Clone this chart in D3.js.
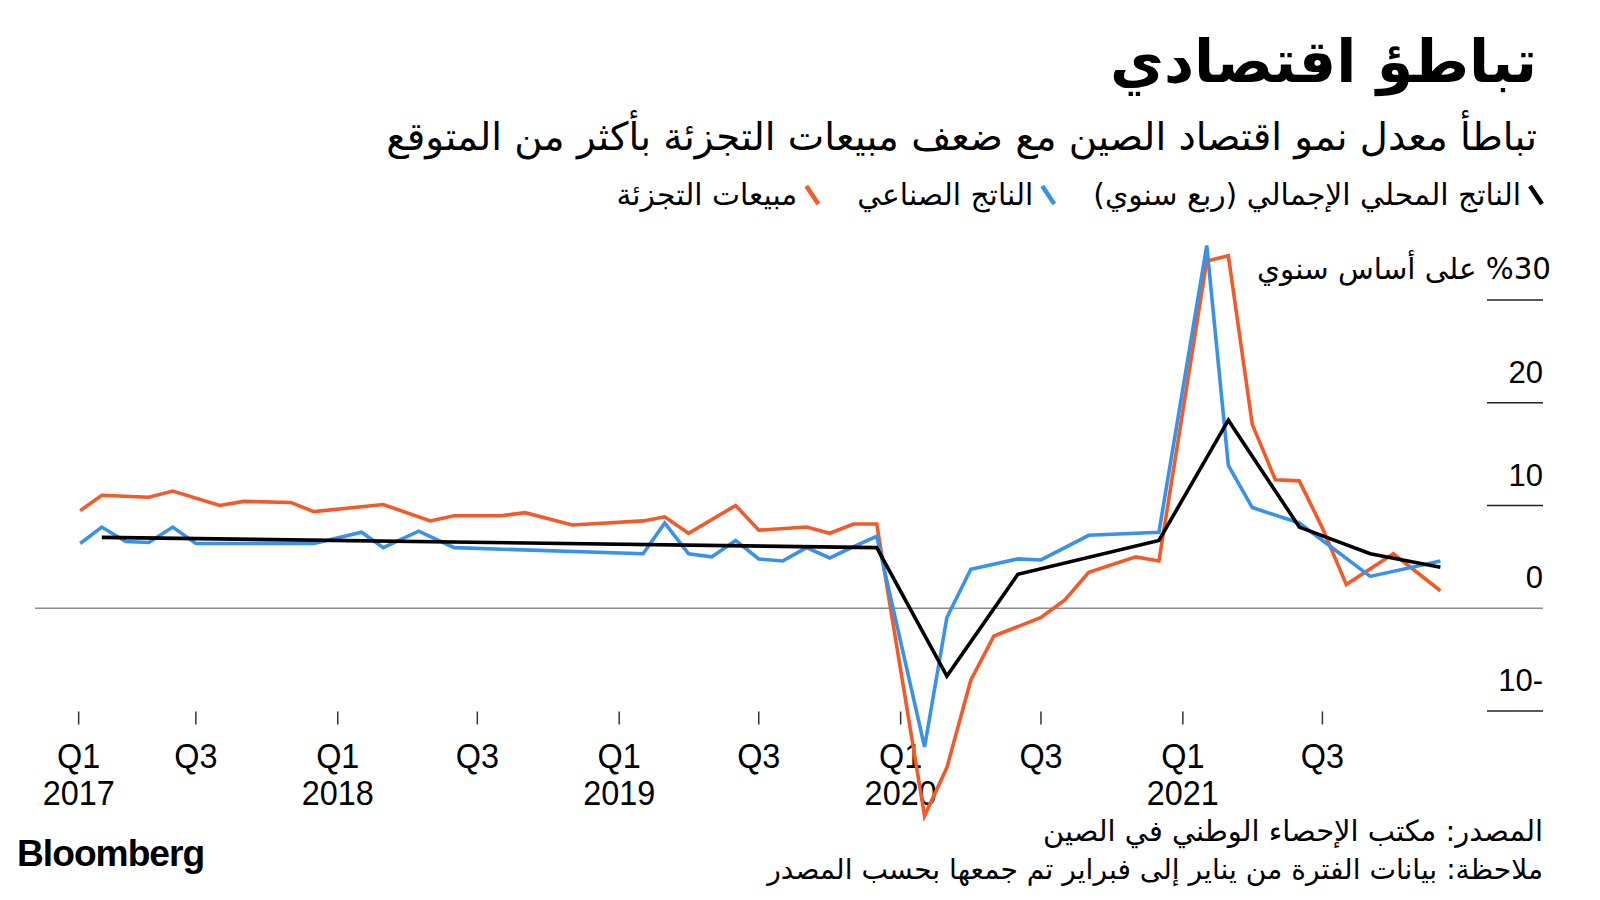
<!DOCTYPE html>
<html><head><meta charset="utf-8">
<script src="https://cdn.jsdelivr.net/npm/d3@7"></script>
<style>body{margin:0;background:#fff;} svg{display:block;}</style>
</head><body>
<svg id="chart" width="1600" height="900"></svg>
<script>
// ---------- data ----------
const titleText = "تباطؤ اقتصادي";
const subtitleText = "تباطأ معدل نمو اقتصاد الصين مع ضعف مبيعات التجزئة بأكثر من المتوقع";
const seriesNames = ["الناتج المحلي الإجمالي (ربع سنوي)", "الناتج الصناعي", "مبيعات التجزئة"];
const seriesColors = ["#000000", "#3a92e8", "#f15a29"];
const sourceText = "المصدر: مكتب الإحصاء الوطني في الصين";
const noteText = "ملاحظة: بيانات الفترة من يناير إلى فبراير تم جمعها بحسب المصدر";

// GDP (quarterly, % y/y)
const gdpDates = ["2017-03","2019-12","2020-03","2020-06","2020-12","2021-03","2021-06","2021-09","2021-12"];
const gdpValues = [6.9, 5.9, -6.6, 3.3, 6.6, 18.3, 7.9, 5.3, 4.0];

// Industrial output (% y/y)
const indDates = ["2017-02","2017-03","2017-04","2017-05","2017-06","2017-07","2017-12",
  "2018-02","2018-03","2018-04-16","2018-06","2019-02","2019-03","2019-04","2019-05","2019-06",
  "2019-07","2019-08","2019-09","2019-10","2019-11","2019-12","2020-02","2020-03","2020-04",
  "2020-06","2020-07","2020-09","2020-12","2021-02","2021-03","2021-04","2021-06","2021-09","2021-12"];
const indValues = [6.3, 7.9, 6.5, 6.4, 7.9, 6.3, 6.3,
  7.4, 5.9, 7.5, 5.9, 5.3, 8.3, 5.3, 5.0, 6.6,
  4.8, 4.6, 5.9, 4.9, 6.0, 7.0, -13.5, -0.9, 3.8,
  4.8, 4.7, 7.1, 7.4, 35.3, 13.9, 9.8, 8.3, 3.1, 4.6];

// Retail sales (% y/y)
const retDates = ["2017-02","2017-03","2017-05","2017-06","2017-08","2017-09","2017-11","2017-12",
  "2018-03","2018-05","2018-06","2018-08","2018-09","2018-11","2019-02","2019-03","2019-04",
  "2019-06","2019-07","2019-09","2019-10","2019-11","2019-12","2020-02","2020-03","2020-04",
  "2020-05","2020-07","2020-08","2020-09","2020-11","2020-12","2021-02","2021-03","2021-04",
  "2021-05","2021-06","2021-07","2021-08","2021-10","2021-12"];
const retValues = [9.5, 11.0, 10.8, 11.4, 10.0, 10.4, 10.3, 9.4,
  10.1, 8.5, 9.0, 9.0, 9.3, 8.1, 8.5, 8.9, 7.3,
  10.0, 7.6, 7.9, 7.3, 8.2, 8.2, -20.2, -15.5, -7.0,
  -2.7, -0.9, 0.8, 3.5, 5.0, 4.6, 33.8, 34.3, 17.9,
  12.5, 12.4, 7.8, 2.3, 5.3, 1.7];

const xTickDates = ["2017-01-30","2017-07-01","2018-01-01","2018-07-01","2019-01-01","2019-07-01","2020-01-01","2020-07-01","2021-01-01","2021-07-01"];
const xTickQuarters = ["Q1","Q3","Q1","Q3","Q1","Q3","Q1","Q3","Q1","Q3"];
const xTickYears = ["2017","","2018","","2019","","2020","","2021",""];

const yTickValues = [30, 20, 10, 0, -10];
const yTickLabels = ["30", "20", "10", "0", "10-"];
const yUnitText = "%30 على أساس سنوي";

// ---------- helpers ----------
const parse = s => {
  const p = s.split("-").map(Number);
  return new Date(Date.UTC(p[0], p[1]-1, p[2] || 1));
};
const mk = (ds, vs) => ds.map((d,i) => ({date: parse(d), value: vs[i]}));
const series = [mk(gdpDates, gdpValues), mk(indDates, indValues), mk(retDates, retValues)];

const svg = d3.select("#chart");
const AR = "'DejaVu Sans', sans-serif";
const LAT = "'Liberation Sans', Arial, sans-serif";

const x = d3.scaleUtc()
  .domain([new Date(Date.UTC(2017,0,1)), new Date(Date.UTC(2022,0,1))])
  .range([56.3, 1464.3]);
const y = d3.scaleLinear().domain([-10, 30]).range([711, 300]);

function fitWidth(sel, target) {
  const w = sel.node().getComputedTextLength();
  const fs = parseFloat(sel.attr("font-size"));
  sel.attr("font-size", (fs * target / w).toFixed(2));
}
function rtlText(txt, xr, yb, size, weight) {
  return svg.append("text")
    .attr("x", xr).attr("y", yb)
    .attr("direction", "rtl").attr("text-anchor", "start")
    .attr("font-family", AR).attr("font-size", size)
    .attr("font-weight", weight || "normal")
    .attr("fill", "#000").text(txt);
}

// ---------- title / subtitle ----------
const t = rtlText(titleText, 1537, 82, 60, "bold");
fitWidth(t, 427);
const st = rtlText(subtitleText, 1537, 150, 36);
fitWidth(st, 1151);

// ---------- legend ----------
let cursor = 1544;
const legendY = 195;
const legendTargets = [428, 176, 181];
seriesNames.forEach((name, i) => {
  svg.append("line")
    .attr("x1", cursor - 14).attr("y1", legendY - 9)
    .attr("x2", cursor - 2).attr("y2", legendY + 9)
    .attr("stroke", seriesColors[i]).attr("stroke-width", 4.5);
  const tx = rtlText(name, cursor - 23, legendY + 10, 27);
  fitWidth(tx, legendTargets[i]);
  const w = tx.node().getComputedTextLength();
  cursor = cursor - 23 - w - 37;
});

// ---------- y axis ----------
yTickValues.forEach((v, i) => {
  const yy = y(v);
  svg.append("line")
    .attr("x1", v === 0 ? 35 : 1487).attr("x2", 1543)
    .attr("y1", yy).attr("y2", yy)
    .attr("stroke", v === 0 ? "#8c8c8c" : "#222")
    .attr("stroke-width", 1.4);
  if (v === 30) {
    const u = rtlText(yUnitText, 1551, yy - 21, 29);
    fitWidth(u, 294);
  } else {
    svg.append("text")
      .attr("x", 1543).attr("y", yy - 20)
      .attr("text-anchor", "end")
      .attr("font-family", LAT).attr("font-size", 31)
      .attr("fill", "#000").text(yTickLabels[i]);
  }
});

// ---------- x axis ----------
xTickDates.forEach((d, i) => {
  const xx = x(parse(d));
  svg.append("line")
    .attr("x1", xx).attr("x2", xx).attr("y1", 711.5).attr("y2", 724.5)
    .attr("stroke", "#333").attr("stroke-width", 1.5);
  svg.append("text")
    .attr("transform", `translate(${xx},768) scale(0.9,1)`)
    .attr("text-anchor", "middle")
    .attr("font-family", LAT).attr("font-size", 36)
    .attr("fill", "#000").text(xTickQuarters[i]);
  if (xTickYears[i]) {
    svg.append("text")
      .attr("transform", `translate(${xx},805) scale(0.9,1)`)
      .attr("text-anchor", "middle")
      .attr("font-family", LAT).attr("font-size", 36)
      .attr("fill", "#000").text(xTickYears[i]);
  }
});

// ---------- lines ----------
const line = d3.line().x(d => x(d.date)).y(d => y(d.value));
[2, 1, 0].forEach(i => {
  svg.append("path")
    .datum(series[i])
    .attr("d", line)
    .attr("fill", "none")
    .attr("stroke", seriesColors[i])
    .attr("stroke-width", 3.6)
    .attr("stroke-linejoin", "miter");
});

// ---------- footer ----------
const s1 = rtlText(sourceText, 1543, 841, 26);
fitWidth(s1, 500);
const s2 = rtlText(noteText, 1543, 879, 26);
fitWidth(s2, 776);

const bb = svg.append("text")
  .attr("x", 17).attr("y", 866)
  .attr("font-family", LAT).attr("font-weight", "bold")
  .attr("font-size", 36).attr("letter-spacing", -1)
  .attr("fill", "#000").text("Bloomberg");
fitWidth(bb, 187);
</script>
</body></html>
